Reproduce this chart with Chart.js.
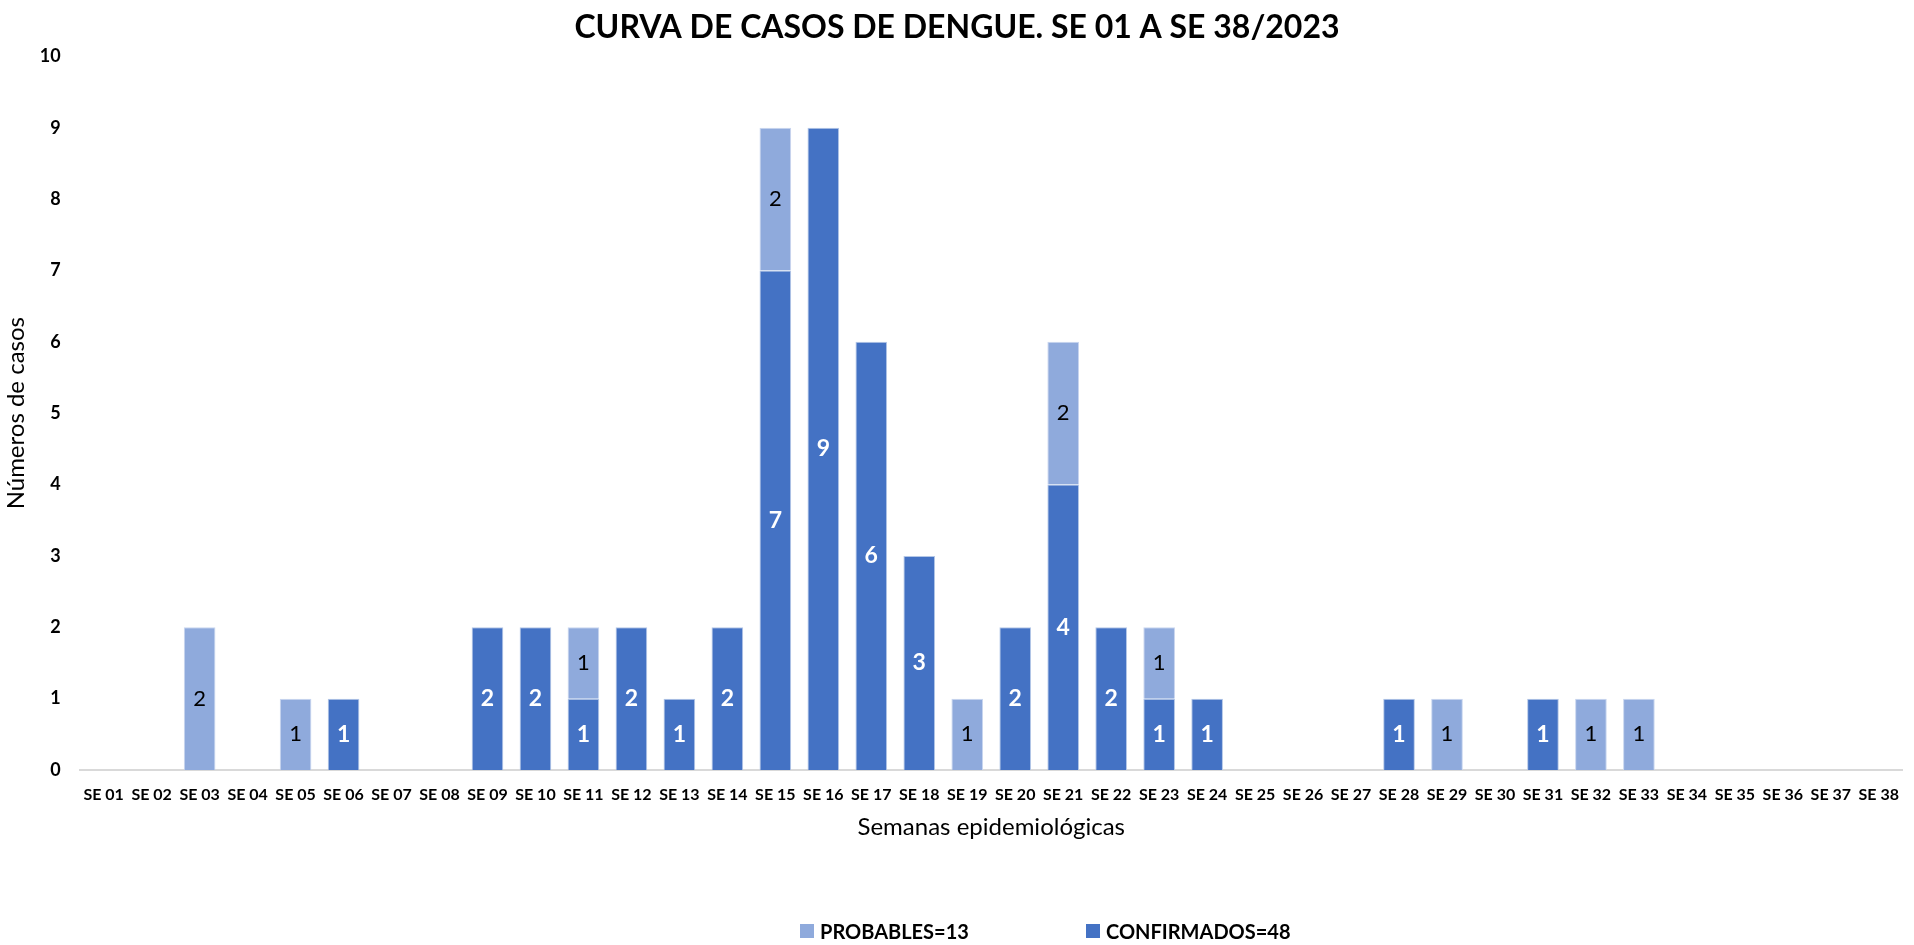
<!DOCTYPE html>
<html>
<head>
<meta charset="utf-8">
<title>Curva de casos de dengue</title>
<script src="https://cdn.jsdelivr.net/npm/chart.js@4.4.0/dist/chart.umd.min.js"></script>
<style>
  html, body { margin: 0; padding: 0; background: #fff; }
  #wrap { position: relative; width: 1914px; height: 945px; }
  #legend {
    position: absolute; left: 800px; top: 918px;
    display: flex; font: bold 20px Lato, "Open Sans", sans-serif; color: #000;
  }
  #legend .item { display: flex; align-items: center; width: 286px; height: 26px; }
  #legend .box { width: 14px; height: 14px; margin-right: 6px; }
</style>
</head>
<body>
<div id="wrap">
  <canvas id="chart"></canvas>
  <div id="legend"></div>
</div>
<script>
// Semanas epidemiologicas
const weeks = ['SE 01','SE 02','SE 03','SE 04','SE 05','SE 06','SE 07','SE 08','SE 09','SE 10',
  'SE 11','SE 12','SE 13','SE 14','SE 15','SE 16','SE 17','SE 18','SE 19','SE 20',
  'SE 21','SE 22','SE 23','SE 24','SE 25','SE 26','SE 27','SE 28','SE 29','SE 30',
  'SE 31','SE 32','SE 33','SE 34','SE 35','SE 36','SE 37','SE 38'];

const confirmados = [0,0,0,0,0,1,0,0,2,2, 1,2,1,2,7,9,6,3,0,2, 4,2,1,1,0,0,0,1,0,0, 1,0,0,0,0,0,0,0];
const probables   = [0,0,2,0,1,0,0,0,0,0, 1,0,0,0,2,0,0,0,1,0, 2,0,1,0,0,0,0,0,1,0, 0,1,1,0,0,0,0,0];

const seriesNames = ['CONFIRMADOS=48', 'PROBABLES=13'];
const yTicks = [0,1,2,3,4,5,6,7,8,9,10];

const FONT = 'Lato, "Open Sans", sans-serif';

// value labels in the middle of each segment
const barLabels = {
  id: 'barLabels',
  afterDatasetsDraw(chart) {
    const ctx = chart.ctx;
    ctx.save();
    ctx.textAlign = 'center';
    ctx.textBaseline = 'middle';
    chart.data.datasets.forEach((ds, i) => {
      const meta = chart.getDatasetMeta(i);
      meta.data.forEach((bar, j) => {
        const v = ds.data[j];
        if (!v) return;
        const p = bar.getCenterPoint();
        ctx.font = ds.labelFont;
        ctx.fillStyle = ds.labelColor;
        ctx.fillText(v, p.x, p.y);
      });
    });
    ctx.restore();
  }
};

const chart = new Chart(document.getElementById('chart'), {
  type: 'bar',
  data: {
    labels: weeks,
    datasets: [
      {
        label: seriesNames[0],
        data: confirmados,
        backgroundColor: '#4472C4',
        borderColor: '#b4c7e7',
        borderWidth: 1,
        labelColor: '#fff',
        labelFont: 'bold 23px ' + FONT
      },
      {
        label: seriesNames[1],
        data: probables,
        backgroundColor: '#8FAADC',
        borderColor: '#c9d6ef',
        borderWidth: 1,
        labelColor: '#000',
        labelFont: '22px ' + FONT
      }
    ]
  },
  options: {
    responsive: true,
    maintainAspectRatio: false,
    animation: false,
    barPercentage: 0.66,
    categoryPercentage: 1,
    layout: { padding: { left: 0, right: 0, top: 0, bottom: 103 } },
    plugins: {
      tooltip: { enabled: false },
      legend: { display: false },
      title: {
        display: true,
        text: 'CURVA DE CASOS DE DENGUE. SE 01 A SE 38/2023',
        color: '#000',
        font: { family: FONT, size: 32, weight: 'bold' },
        padding: { top: 8, bottom: 10 }
      }
    },
    scales: {
      x: {
        stacked: true,
        grid: { display: false, drawTicks: false },
        border: { color: '#D9D9D9', width: 2 },
        ticks: {
          color: '#000',
          autoSkip: false,
          maxRotation: 0,
          padding: 15,
          font: { family: FONT, size: 16, weight: 'bold' }
        },
        title: {
          display: true,
          text: 'Semanas epidemiológicas',
          color: '#000',
          font: { family: FONT, size: 24 },
          padding: { top: -6, bottom: 0 }
        }
      },
      y: {
        stacked: true,
        min: yTicks[0],
        max: yTicks[yTicks.length - 1],
        grid: { display: false, drawTicks: false },
        border: { display: false },
        ticks: {
          stepSize: 1,
          color: '#000',
          padding: 19,
          font: { family: FONT, size: 18, weight: 'bold' }
        },
        title: {
          display: true,
          text: 'Números de casos',
          color: '#000',
          font: { family: FONT, size: 24 },
          padding: { top: 2, bottom: -10 }
        }
      }
    }
  },
  plugins: [barLabels]
});

// legend below the chart, PROBABLES first
const legendEl = document.getElementById('legend');
chart.data.datasets.slice().reverse().forEach(ds => {
  const item = document.createElement('div');
  item.className = 'item';
  const box = document.createElement('span');
  box.className = 'box';
  box.style.background = ds.backgroundColor;
  const txt = document.createElement('span');
  txt.textContent = ds.label;
  item.appendChild(box);
  item.appendChild(txt);
  legendEl.appendChild(item);
});
</script>
</body>
</html>
